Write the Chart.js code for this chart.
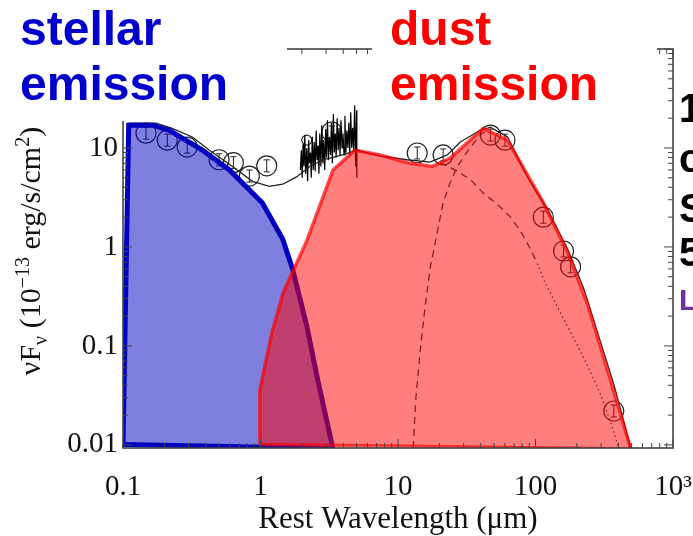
<!DOCTYPE html>
<html>
<head>
<meta charset="utf-8">
<script src="https://cdn.jsdelivr.net/npm/chart.js@4.4.0/dist/chart.umd.min.js"></script>
<style>
  html, body { margin: 0; padding: 0; background: #fff; }
  canvas { display: block; }
</style>
</head>
<body>
<canvas id="sedChart" width="693" height="536"></canvas>
<script>
// axis ticks
const xTicks = [0.1, 1, 10, 100, 1000];
const xTickLabels = ['0.1', '1', '10', '100', '10³'];
const yTicks = [0.01, 0.1, 1, 10];
const yTickLabels = ['0.01', '0.1', '1', '10'];

// stellar emission polygon (top outline + bottom edge), micron / 1e-13 erg/s/cm2
const stellarTopX = [0.1, 0.11, 0.163, 0.217, 0.378, 0.594, 1.03, 1.45, 1.71, 2.17, 2.56, 3.36];
const stellarTopY = [0.0101, 17, 17, 15.1, 9.5, 6.0, 2.8, 1.2, 0.6, 0.16, 0.051, 0.0092];
const stellarBaseX = [0.1, 3.36];
const stellarBaseY = [0.0101, 0.0092];

// dust emission polygon
const dustTopX = [0.98, 0.99, 1.21, 1.46, 2.18, 3.37, 4.86, 7.4, 11.8, 17.7, 24, 41.7, 62.5, 114, 171, 240, 371, 493];
const dustTopY = [0.0101, 0.036, 0.135, 0.343, 1.17, 6.0, 9.5, 8.5, 7.1, 6.5, 7.9, 15.8, 12, 2.8, 0.89, 0.26, 0.035, 0.0091];
const dustBaseX = [0.98, 493];
const dustBaseY = [0.0101, 0.0091];

// total model SED
const modelX = [0.11, 0.174, 0.228, 0.319, 0.425, 0.625, 0.875, 1.16, 1.45, 1.83, 2.28, 2.84, 3.97, 5.0, 7.4, 11.6, 17.1, 22.8, 28.4, 39.7, 47, 62.5, 87.5, 122, 171, 224, 371, 493];
const modelY = [17.8, 17.8, 15.8, 12.9, 9.5, 6.5, 4.6, 4.1, 4.3, 5.1, 6.5, 7.6, 8.5, 9.5, 8.3, 7.6, 7.2, 8.5, 11.5, 15.1, 16.2, 12.9, 5.1, 2.4, 0.95, 0.38, 0.041, 0.0093];

// cold dust component (dashed)
const coldX = [12.9, 13.5, 14.5, 15.7, 17.1, 19.3, 21.3, 24, 27, 33.6, 41, 47];
const coldY = [0.0093, 0.030, 0.089, 0.24, 0.60, 1.41, 2.8, 4.5, 6.5, 10.2, 14.1, 15.1];

// warm dust component (dashed, then dotted tail)
const warmX = [20.2, 26, 33.6, 41.7, 52.8, 65.8, 77.8, 92, 103];
const warmY = [7.1, 6.0, 4.8, 3.5, 2.7, 2.0, 1.45, 0.95, 0.68];
const warmTailX = [103, 118, 140, 166, 203, 252, 298, 352, 403];
const warmTailY = [0.68, 0.43, 0.27, 0.17, 0.10, 0.054, 0.032, 0.017, 0.0093];

// IRS spectrum
const specX = [1.95, 1.98, 2.01, 2.04, 2.07, 2.10, 2.13, 2.17, 2.20, 2.24, 2.27, 2.31, 2.34, 2.38, 2.42,
               2.46, 2.50, 2.54, 2.58, 2.62, 2.66, 2.70, 2.75, 2.79, 2.84, 2.88, 2.93, 2.98, 3.02, 3.07,
               3.12, 3.17, 3.23, 3.28, 3.33, 3.39, 3.44, 3.50, 3.55, 3.61, 3.67, 3.73, 3.79, 3.85, 3.92,
               3.98, 4.05, 4.11, 4.18, 4.25, 4.32, 4.39, 4.46, 4.53, 4.61, 4.68, 4.76, 4.84, 4.92, 5.00, 5.02];
const specY = [6.0, 9.5, 5.0, 11.0, 6.5, 13.5, 5.5, 10.0, 4.6, 12.0, 7.0, 9.0, 5.0, 13.0, 6.0,
               11.5, 5.8, 15.0, 7.5, 10.5, 5.5, 14.0, 6.5, 17.0, 7.0, 12.0, 6.0, 15.5, 8.0, 19.0,
               7.5, 13.0, 8.5, 18.0, 7.0, 22.0, 9.0, 14.0, 8.0, 20.0, 9.5, 16.0, 8.5, 19.0, 10.0,
               14.0, 8.5, 21.0, 9.0, 15.0, 10.0, 18.0, 8.5, 23.0, 10.0, 16.0, 9.5, 27.0, 6.5, 24.0, 5.0];

// photometry
const photX = [0.147, 0.21, 0.293, 0.50, 0.635, 0.83, 1.11, 3.3, 13.8, 21.3, 47, 60, 114, 160, 180, 371];
const photY = [14.1, 12, 10.2, 7.6, 7.1, 5.2, 6.6, 14.5, 8.9, 8.5, 13.5, 12, 2.0, 0.91, 0.63, 0.022];
const photSmallX = [2.17];
const photSmallY = [12];

const pts = (xs, ys) => xs.map((x, i) => ({ x: x, y: ys[i] }));
const serif = '"Liberation Serif", "Times New Roman", serif';
const sans = '"Liberation Sans", Arial, sans-serif';

// inward tick marks + frame
const frameAxes = {
    id: 'frameAxes',
    afterDatasetsDraw(chart) {
        const { ctx, chartArea: a, scales: { x, y } } = chart;
        ctx.save();
        ctx.strokeStyle = '#444';
        ctx.lineWidth = 1;
        ctx.beginPath();
        for (let d = 0.1; d < 1001; d *= 10) {
            for (let m = 1; m < 10; m++) {
                const v = m * d;
                if (v > 1000.5) break;
                const px = x.getPixelForValue(v);
                const len = m === 1 ? 9 : 5;
                ctx.moveTo(px, a.bottom); ctx.lineTo(px, a.bottom - len);
                ctx.moveTo(px, a.top); ctx.lineTo(px, a.top + len);
            }
        }
        for (let d = 0.001; d < 101; d *= 10) {
            for (let m = 1; m < 10; m++) {
                const v = m * d;
                if (v < 0.0093 || v > 100.5) continue;
                const py = y.getPixelForValue(v);
                const len = m === 1 ? 9 : 5;
                ctx.moveTo(a.left, py); ctx.lineTo(a.left + len, py);
                ctx.moveTo(a.right, py); ctx.lineTo(a.right - len, py);
            }
        }
        ctx.stroke();
        ctx.lineWidth = 1.6;
        ctx.strokeRect(a.left, a.top, a.right - a.left, a.bottom - a.top);
        ctx.restore();
    },
    afterDatasetDraw(chart, args) {
        // small error bars inside the photometry circles
        if (args.meta.label !== 'phot') return;
        const { ctx } = chart;
        ctx.save();
        ctx.strokeStyle = '#222';
        ctx.lineWidth = 1;
        ctx.beginPath();
        args.meta.data.forEach(p => {
            ctx.moveTo(p.x, p.y - 6); ctx.lineTo(p.x, p.y + 6);
            ctx.moveTo(p.x - 3, p.y - 6); ctx.lineTo(p.x + 3, p.y - 6);
            ctx.moveTo(p.x - 3, p.y + 6); ctx.lineTo(p.x + 3, p.y + 6);
        });
        ctx.stroke();
        ctx.restore();
    },
    afterDraw(chart) {
        const ctx = chart.ctx;
        ctx.save();
        // slide labels on white boxes
        ctx.fillStyle = '#fff';
        ctx.fillRect(0, 0, 287, 121);
        ctx.fillRect(372, 0, 285, 112);
        ctx.textBaseline = 'alphabetic';
        ctx.textAlign = 'left';
        ctx.font = 'bold 48px ' + sans;
        ctx.fillStyle = '#0000cc';
        ctx.fillText('stellar', 20, 45);
        ctx.fillText('emission', 20, 100);
        ctx.fillStyle = '#ff0000';
        ctx.fillText('dust', 390, 45);
        ctx.fillText('emission', 390, 100);
        // cut-off text on the right edge
        ctx.fillStyle = '#000';
        ctx.font = 'bold 40px ' + sans;
        ctx.fillText('1', 679, 122);
        ctx.fillText('c', 679, 172);
        ctx.fillText('S', 679, 222);
        ctx.fillText('5', 679, 266);
        ctx.fillStyle = '#7030a0';
        ctx.font = 'bold 30px ' + sans;
        ctx.fillText('L', 679, 310);

        // y axis title with sub/superscripts
        const big = '30px ' + serif, small = '20px ' + serif;
        const parts = [['νF', big, 0], ['ν', small, 7], [' (10', big, 0], ['−13', small, -11],
                       [' erg/s/cm', big, 0], ['2', small, -11], [')', big, 0]];
        ctx.translate(30, 251);
        ctx.rotate(-Math.PI / 2);
        let total = 0;
        parts.forEach(p => { ctx.font = p[1]; total += ctx.measureText(p[0]).width; });
        let tx = -total / 2;
        ctx.fillStyle = '#111';
        parts.forEach(p => {
            ctx.font = p[1];
            ctx.fillText(p[0], tx, 10 + p[2]);
            tx += ctx.measureText(p[0]).width;
        });
        ctx.restore();
    }
};

new Chart(document.getElementById('sedChart'), {
    type: 'line',
    data: {
        datasets: [
            { label: 'dust', data: pts(dustTopX, dustTopY), fill: 1, order: 1,
              borderColor: 'rgba(255, 0, 0, 0.7)', borderWidth: 3.5, backgroundColor: 'rgba(255, 0, 0, 0.5)' },
            { label: 'dustBase', data: pts(dustBaseX, dustBaseY), order: 0,
              borderColor: 'rgba(255, 0, 0, 0.7)', borderWidth: 3.5 },
            { label: 'stellar', data: pts(stellarTopX, stellarTopY), fill: 3, order: 3,
              borderColor: '#0000c0', borderWidth: 5, backgroundColor: 'rgba(0, 0, 192, 0.5)' },
            { label: 'stellarBase', data: pts(stellarBaseX, stellarBaseY), order: 2,
              borderColor: '#0000c0', borderWidth: 5 },
            { label: 'model', data: pts(modelX, modelY), order: 4,
              borderColor: '#222', borderWidth: 1.3 },
            { label: 'cold', data: pts(coldX, coldY), order: 5,
              borderColor: '#333', borderWidth: 1.3, borderDash: [7, 5] },
            { label: 'warm', data: pts(warmX, warmY), order: 5,
              borderColor: '#333', borderWidth: 1.3, borderDash: [7, 5] },
            { label: 'warmTail', data: pts(warmTailX, warmTailY), order: 5,
              borderColor: '#333', borderWidth: 1.3, borderDash: [1.5, 3] },
            { label: 'spectrum', data: pts(specX, specY), order: 6,
              borderColor: '#000', borderWidth: 1.2 },
            { label: 'phot', data: pts(photX, photY), order: 7, showLine: false,
              pointRadius: 10, pointBorderWidth: 1.2, pointBorderColor: '#222',
              pointBackgroundColor: 'rgba(0,0,0,0)' },
            { label: 'photSmall', data: pts(photSmallX, photSmallY), order: 7, showLine: false,
              pointRadius: 5, pointBorderWidth: 1.2, pointBorderColor: '#222',
              pointBackgroundColor: 'rgba(0,0,0,0)' }
        ]
    },
    options: {
        responsive: false,
        animation: false,
        layout: { padding: { left: 0, right: 20, top: 49, bottom: 0 } },
        elements: { point: { radius: 0 }, line: { tension: 0 } },
        plugins: { legend: { display: false }, tooltip: { enabled: false } },
        scales: {
            x: {
                type: 'logarithmic', min: 0.1, max: 1000,
                grid: { display: false, drawTicks: false }, border: { display: false },
                afterBuildTicks: s => { s.ticks = xTicks.map(v => ({ value: v })); },
                afterFit: s => { s.height = 88; s.paddingLeft = 0; s.paddingRight = 0; },
                ticks: {
                    font: { family: serif, size: 29 }, color: '#111', padding: 22, maxRotation: 0,
                    callback: v => { const i = xTicks.indexOf(v); return i < 0 ? '' : xTickLabels[i]; }
                },
                title: {
                    display: true, text: 'Rest Wavelength (μm)', color: '#111',
                    font: { family: serif, size: 31, lineHeight: 1 }, padding: { top: 0, bottom: 0.5 }
                }
            },
            y: {
                type: 'logarithmic', min: 0.0093, max: 100,
                grid: { display: false, drawTicks: false }, border: { display: false },
                afterBuildTicks: s => { s.ticks = yTicks.map(v => ({ value: v })); },
                afterFit: s => { s.width = 123; s.paddingTop = 0; s.paddingBottom = 0; },
                ticks: {
                    font: { family: serif, size: 29 }, color: '#111', padding: 5,
                    callback: v => { const i = yTicks.indexOf(v); return i < 0 ? '' : yTickLabels[i]; }
                }
            }
        }
    },
    plugins: [frameAxes]
});
</script>
</body>
</html>
